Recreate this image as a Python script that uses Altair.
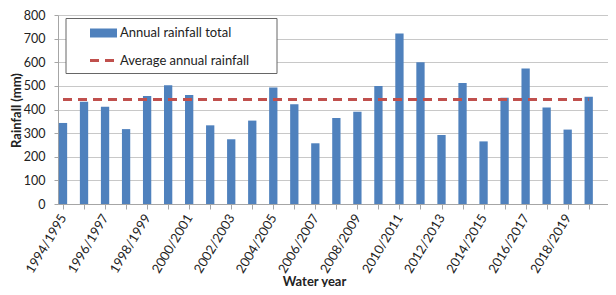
import altair as alt
import pandas as pd

# ---- data ----
years = ["1994/1995", "1995/1996", "1996/1997", "1997/1998", "1998/1999", "1999/2000",
         "2000/2001", "2001/2002", "2002/2003", "2003/2004", "2004/2005", "2005/2006",
         "2006/2007", "2007/2008", "2008/2009", "2009/2010", "2010/2011", "2011/2012",
         "2012/2013", "2013/2014", "2014/2015", "2015/2016", "2016/2017", "2017/2018",
         "2018/2019", "2019/2020"]
rainfall = [343, 433, 412, 317, 457, 503, 461, 333, 274, 353, 493, 422, 257, 364,
            390, 500, 722, 600, 292, 512, 265, 450, 574, 408, 315, 454]
average_rainfall = 442
y_ticks = [0, 100, 200, 300, 400, 500, 600, 700, 800]
legend_labels = ["Annual rainfall total", "Average annual rainfall"]

FONT = "Lato"
BLUE = "#4F81BD"
RED = "#C0504D"
AXIS_GREY = "#a6a6a6"

df = pd.DataFrame({"idx": list(range(len(years))), "year": years, "rain": rainfall})
avg_df = pd.DataFrame({"idx": [0], "idx_end": [len(years) - 1], "rain": [average_rainfall]})

# every other category gets a label
tick_labels = [y if i % 2 == 0 else "" for i, y in enumerate(years)]
label_expr = "[" + ",".join("'" + t + "'" for t in tick_labels) + "][datum.value] || ''"

# the visible axis runs a little past the last category (picture is cropped on the right)
x_scale = alt.Scale(domain=[0, 25.68], nice=False, zero=False)
y_scale = alt.Scale(domain=[0, 800], nice=False)

x_axis = alt.Axis(
    values=list(range(len(years))), labelExpr=label_expr,
    labelAngle=-59, labelAlign="right", labelBaseline="middle", labelFlush=False,
    labelOverlap=False, labelPadding=6, labelFontSize=13, labelFont=FONT, labelColor="#222",
    grid=False, tickSize=5, tickColor=AXIS_GREY, domainColor=AXIS_GREY,
    title="Water year", titleFont=FONT, titleFontSize=13, titleFontWeight="bold",
    titleColor="#222", titleX=256, titleY=81, titleAlign="center", titleBaseline="alphabetic",
    titleAngle=0,
)
y_axis = alt.Axis(
    values=y_ticks, tickCount=9, grid=True, gridColor="#c8c8c8",
    domain=True, domainColor=AXIS_GREY, ticks=True, tickSize=4, tickColor=AXIS_GREY,
    labelPadding=9, labelFontSize=12.5, labelFont=FONT, labelColor="#222", labelFlush=False,
    labelOverlap=False,
    title="Rainfall (mm)", titleFont=FONT, titleFontSize=13, titleFontWeight="bold",
    titleColor="#222", titleX=-42, titleY=95, titleAngle=270, titleAlign="center",
    titleBaseline="middle",
)

bars = alt.Chart(df).mark_bar(width=8.3, color=BLUE, clip=True).encode(
    x=alt.X("idx:Q", scale=x_scale, axis=x_axis),
    y=alt.Y("rain:Q", scale=y_scale, axis=y_axis),
)

avg_rule = alt.Chart(avg_df).mark_rule(color=RED, strokeWidth=3, strokeDash=[9, 6]).encode(
    x=alt.X("idx:Q", scale=x_scale, axis=x_axis),
    x2="idx_end:Q",
    y=alt.Y("rain:Q", scale=y_scale, axis=y_axis),
)

one = pd.DataFrame({"a": [0]})
legend_box = alt.Chart(one).mark_rect(fill="white", stroke="#666666", strokeWidth=1).encode(
    x=alt.value(8), x2=alt.value(219), y=alt.value(3.5), y2=alt.value(58.5)
)
legend_swatch = alt.Chart(one).mark_rect(fill=BLUE).encode(
    x=alt.value(32), x2=alt.value(59), y=alt.value(13.5), y2=alt.value(22.5)
)
legend_dash = alt.Chart(one).mark_rule(color=RED, strokeWidth=3, strokeDash=[9, 6]).encode(
    x=alt.value(32), x2=alt.value(60), y=alt.value(45.5)
)
legend_text1 = alt.Chart(pd.DataFrame({"t": [legend_labels[0]]})).mark_text(
    align="left", baseline="middle", font=FONT, fontSize=13, color="#222"
).encode(x=alt.value(62), y=alt.value(17.5), text="t:N")
legend_text2 = alt.Chart(pd.DataFrame({"t": [legend_labels[1]]})).mark_text(
    align="left", baseline="middle", font=FONT, fontSize=13, color="#222"
).encode(x=alt.value(62), y=alt.value(45.5), text="t:N")

chart = alt.layer(bars, avg_rule, legend_box, legend_swatch, legend_dash,
                  legend_text1, legend_text2).properties(
    width=550, height=189,
    autosize=alt.AutoSizeParams(type="none"),
    padding={"left": 50, "top": 7, "right": 0, "bottom": 83},
).configure_view(stroke=None)

chart.save("out.html", embed_options={"renderer": "svg", "actions": False})
